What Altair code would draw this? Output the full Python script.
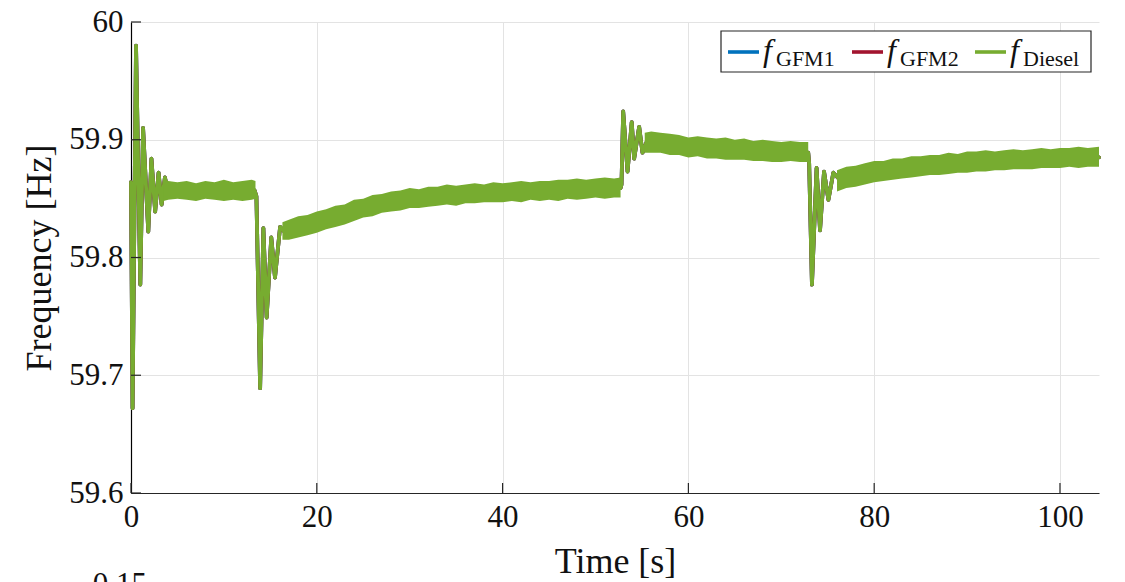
import altair as alt
import pandas as pd

# ---------------- data ----------------
series_names = ["GFM1", "GFM2", "Diesel"]
series_labels = ["GFM1", "GFM2", "Diesel"]
series_colors = ["#0072BD", "#A2142F", "#77AC30"]

# centre path of the frequency traces (transients + slow trend), [s] / [Hz]
trace_t = [0.0, 0.17, 0.54, 1.0, 1.3, 1.86, 2.2, 2.6, 2.97, 3.3, 3.65, 4.0, 8.0,
           13.3, 13.5, 13.9, 14.25, 14.6, 15.1, 15.5, 16.05, 16.5, 20.0, 30.0, 40.0,
           52.7, 52.8, 52.98, 53.45, 53.9, 54.16, 54.7, 55.06, 55.5, 60.0,
           72.9, 73.0, 73.3, 73.8, 74.17, 74.6, 75.07, 75.6, 76.3, 80.0, 90.0, 104.2]
trace_f = [59.864, 59.672, 59.980, 59.777, 59.910, 59.822, 59.884, 59.839, 59.872, 59.845, 59.868, 59.855, 59.857,
           59.857, 59.852, 59.689, 59.825, 59.749, 59.817, 59.783, 59.826, 59.822, 59.830, 59.850, 59.855,
           59.859, 59.862, 59.924, 59.873, 59.915, 59.884, 59.911, 59.889, 59.898, 59.893,
           59.889, 59.880, 59.777, 59.876, 59.823, 59.873, 59.849, 59.872, 59.866, 59.873, 59.881, 59.885]

# envelope of the fast ripple (upper / lower edge of the thick band)
seg1_t = [3.5, 4, 5, 6, 7, 8, 9, 10, 11, 12, 13, 13.4]
seg1_hi = [59.866, 59.865, 59.864, 59.865, 59.863, 59.865, 59.864, 59.866, 59.864, 59.865, 59.866, 59.865]
seg1_lo = [59.848, 59.849, 59.850, 59.849, 59.848, 59.850, 59.849, 59.848, 59.849, 59.848, 59.849, 59.850]

seg2_t = [16.3, 17, 18, 19, 20, 21, 22, 23, 24, 25, 26, 27, 28, 29, 30, 31, 32, 33, 34, 35,
          36, 37, 38, 39, 40, 41, 42, 43, 44, 45, 46, 47, 48, 49, 50, 51, 52, 52.7]
seg2_hi = [59.830, 59.832, 59.835, 59.836, 59.839, 59.841, 59.844, 59.845, 59.849, 59.850,
           59.853, 59.854, 59.856, 59.857, 59.859, 59.858, 59.860, 59.860, 59.862, 59.861,
           59.862, 59.863, 59.862, 59.864, 59.863, 59.864, 59.865, 59.864, 59.865, 59.865,
           59.866, 59.866, 59.867, 59.866, 59.867, 59.868, 59.867, 59.868]
seg2_lo = [59.815, 59.815, 59.817, 59.819, 59.821, 59.824, 59.826, 59.828, 59.831, 59.834,
           59.835, 59.838, 59.839, 59.840, 59.842, 59.842, 59.843, 59.844, 59.845, 59.844,
           59.846, 59.846, 59.847, 59.847, 59.847, 59.848, 59.847, 59.849, 59.848, 59.849,
           59.848, 59.850, 59.849, 59.850, 59.851, 59.850, 59.851, 59.851]

seg3_t = [55.3, 56, 57, 58, 59, 60, 61, 62, 63, 64, 65, 66, 67, 68, 69, 70, 71, 72, 72.9]
seg3_hi = [59.906, 59.907, 59.906, 59.905, 59.904, 59.902, 59.903, 59.902, 59.901, 59.902,
           59.900, 59.901, 59.899, 59.900, 59.899, 59.898, 59.899, 59.898, 59.898]
seg3_lo = [59.889, 59.889, 59.889, 59.887, 59.887, 59.885, 59.886, 59.884, 59.884, 59.883,
           59.883, 59.883, 59.882, 59.882, 59.881, 59.881, 59.882, 59.881, 59.881]

seg4_t = [76, 77, 78, 79, 80, 81, 82, 83, 84, 85, 86, 87, 88, 89, 90, 91, 92, 93, 94, 95,
          96, 97, 98, 99, 100, 101, 102, 103, 104.2]
seg4_hi = [59.874, 59.877, 59.878, 59.880, 59.882, 59.882, 59.884, 59.884, 59.886, 59.886,
           59.887, 59.887, 59.889, 59.888, 59.890, 59.890, 59.891, 59.890, 59.891, 59.892,
           59.891, 59.892, 59.893, 59.892, 59.893, 59.893, 59.894, 59.893, 59.894]
seg4_lo = [59.856, 59.859, 59.860, 59.862, 59.864, 59.865, 59.866, 59.867, 59.868, 59.869,
           59.870, 59.870, 59.871, 59.872, 59.872, 59.873, 59.873, 59.874, 59.874, 59.875,
           59.875, 59.875, 59.876, 59.876, 59.876, 59.877, 59.876, 59.877, 59.877]

x_ticks = [0, 20, 40, 60, 80, 100]
y_ticks = [59.6, 59.7, 59.8, 59.9, 60.0]
x_domain = [0, 104.2]
y_domain = [59.6, 60.0]

# ---------------- build ----------------
W, H = 968, 471
FONT = "Liberation Serif"
INK = "#262626"

xs = alt.Scale(domain=x_domain, nice=False, zero=False)
ys = alt.Scale(domain=y_domain, nice=False, zero=False)

trace_df = pd.DataFrame({"t": trace_t, "f": trace_f})

band_rows = []
for sid, (tt, hh, ll) in enumerate([(seg1_t, seg1_hi, seg1_lo), (seg2_t, seg2_hi, seg2_lo),
                                      (seg3_t, seg3_hi, seg3_lo), (seg4_t, seg4_hi, seg4_lo)]):
    for a, b, c in zip(tt, hh, ll):
        band_rows.append({"seg": sid, "t": a, "hi": b, "lo": c})
band_df = pd.DataFrame(band_rows)

x_axis = alt.Axis(values=x_ticks, format="d", labelFlush=False, title="Time [s]", grid=True,
                  gridColor="#e3e3e3", gridWidth=1, ticks=False,
                  domainColor=INK, domainWidth=1.2,
                  labelFont=FONT, labelFontSize=31, labelColor="#111111", labelPadding=9,
                  titleFont=FONT, titleFontSize=36, titleFontWeight="normal",
                  titleColor="#111111", titlePadding=12)
y_axis = alt.Axis(values=y_ticks, title="Frequency [Hz]", grid=True,
                  gridColor="#e3e3e3", gridWidth=1, ticks=False,
                  labelExpr="datum.value == 60 ? '60' : format(datum.value, '.1f')",
                  domainColor="#000000", domainWidth=1.2,
                  labelFont=FONT, labelFontSize=31, labelColor="#111111", labelPadding=8,
                  titleFont=FONT, titleFontSize=36, titleFontWeight="normal",
                  titleColor="#111111", titlePadding=10)

X = lambda f: alt.X(f, scale=xs, axis=x_axis)
Y = lambda f: alt.Y(f, scale=ys, axis=y_axis)

axes_layer = alt.Chart(trace_df).mark_point(opacity=0).encode(x=X("t:Q"), y=Y("f:Q"))
layers = [axes_layer]

for name, col in zip(series_names, series_colors):
    d = trace_df.assign(series=name)
    layers.append(alt.Chart(d).mark_line(color=col, strokeWidth=3.8, strokeJoin="round",
                                         strokeCap="round").encode(x=X("t:Q"), y=Y("f:Q")))
    if name == "Diesel":
        layers.append(alt.Chart(band_df).mark_area(color=col, opacity=1, interpolate="linear").encode(
            x=X("t:Q"), y=Y("lo:Q"), y2="hi:Q", detail="seg:N"))

xt = alt.Chart(pd.DataFrame({"t": x_ticks})).mark_rule(color=INK, strokeWidth=1.2).encode(
    x=X("t:Q"), y=alt.value(H), y2=alt.value(H - 10))
yt = alt.Chart(pd.DataFrame({"f": y_ticks})).mark_rule(color=INK, strokeWidth=1.2).encode(
    y=Y("f:Q"), x=alt.value(0), x2=alt.value(10))
layers += [xt, yt]

one = pd.DataFrame({"a": [0]})
layers.append(alt.Chart(one).mark_rect(fill="white", stroke=INK, strokeWidth=1.2).encode(
    x=alt.value(590), x2=alt.value(960), y=alt.value(9), y2=alt.value(50)))
starts = [597, 721, 844]
for s, lab, col in zip(starts, series_labels, series_colors):
    layers.append(alt.Chart(one).mark_rule(color=col, strokeWidth=3.6).encode(
        x=alt.value(s), x2=alt.value(s + 31), y=alt.value(30)))
    layers.append(alt.Chart(one).mark_text(text="f", font=FONT, fontStyle="italic", fontSize=32,
                                           align="left", baseline="alphabetic", color="#111111").encode(
        x=alt.value(s + 35), y=alt.value(39)))
    layers.append(alt.Chart(one).mark_text(text=lab, font=FONT, fontSize=22,
                                           align="left", baseline="alphabetic", color="#111111").encode(
        x=alt.value(s + 48), y=alt.value(44)))

layers.append(alt.Chart(one).mark_text(text="0.15", font=FONT, fontSize=31, align="right",
                                       baseline="alphabetic", color="#111111").encode(
    x=alt.value(16), y=alt.value(572)))

chart = alt.layer(*layers).properties(
    width=W, height=H,
    autosize=alt.AutoSizeParams(type="none"),
    padding={"left": 131, "top": 22, "right": 26, "bottom": 89},
    background="white",
).configure_view(stroke=None)

chart.save("out.html", embed_options={"renderer": "svg", "actions": False})
